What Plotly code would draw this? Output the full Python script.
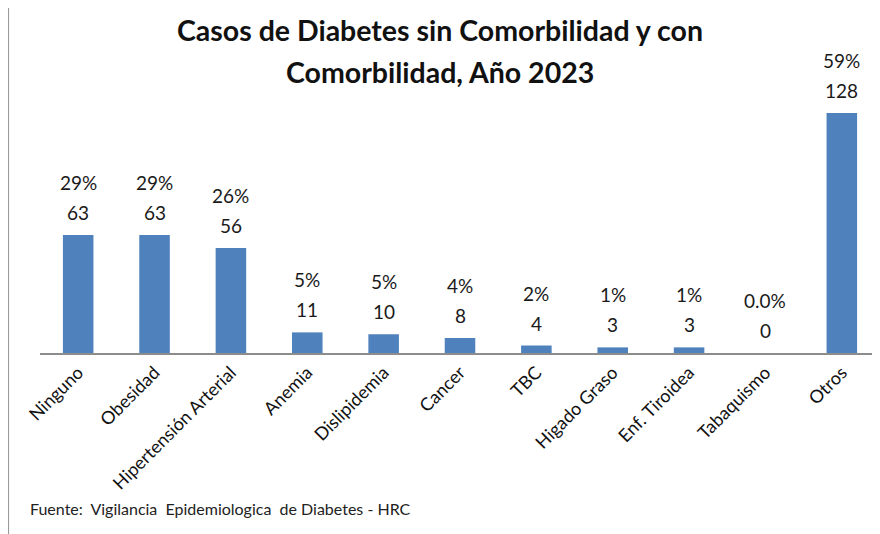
import plotly.graph_objects as go

categorias = ["Ninguno", "Obesidad", "Hipertensión Arterial", "Anemia", "Dislipidemia",
              "Cancer", "TBC", "Higado Graso", "Enf. Tiroidea", "Tabaquismo", "Otros"]
casos = [63, 63, 56, 11, 10, 8, 4, 3, 3, 0, 128]
porcentajes = ["29%", "29%", "26%", "5%", "5%", "4%", "2%", "1%", "1%", "0.0%", "59%"]

FONT = "Lato, 'Open Sans', sans-serif"

fig = go.Figure(go.Bar(
    x=categorias, y=casos,
    marker=dict(color="#4F81BD", line=dict(width=0)),
    width=0.4,
))

# two labels per bar: count and percentage above it
for cat, n, p in zip(categorias, casos, porcentajes):
    fig.add_annotation(x=cat, y=n, text=str(n), showarrow=False, yanchor="bottom",
                       yshift=9, font=dict(size=19, color="#1a1a1a"))
    fig.add_annotation(x=cat, y=n, text=p, showarrow=False, yanchor="bottom",
                       yshift=39, font=dict(size=19, color="#1a1a1a"))

fig.add_annotation(xref="paper", yref="paper", x=0.476, y=1.102, text="<b>Casos de Diabetes sin Comorbilidad y con</b>",
                   showarrow=False, font=dict(size=28.5, color="#111"), yanchor="middle")
fig.add_annotation(xref="paper", yref="paper", x=0.476, y=0.959, text="<b>Comorbilidad, Año 2023</b>",
                   showarrow=False, font=dict(size=28.5, color="#111"), yanchor="middle")
fig.add_annotation(xref="paper", yref="paper", x=-0.0143, y=-0.57, xanchor="left",
                   text="Fuente:  Vigilancia  Epidemiologica  de Diabetes - HRC",
                   showarrow=False, font=dict(size=16, color="#222"))

# outer chart frame
fig.add_shape(type="rect", xref="paper", yref="paper", x0=-0.038, x1=1.05, y0=-0.8, y1=1.188,
              line=dict(color="#9a9a9a", width=2), fillcolor="rgba(0,0,0,0)", layer="below")

# page body adds an 8px offset, so the figure is sized to fit the window
fig.update_layout(
    width=872, height=526,
    margin=dict(l=32, r=0, t=52, b=181),
    plot_bgcolor="white", paper_bgcolor="white",
    font=dict(family=FONT, color="#111"),
    showlegend=False,
    bargap=0.6,
    xaxis=dict(showline=True, linecolor="#8c8c8c", linewidth=2, ticks="", tickangle=-45,
               tickfont=dict(size=18, color="#111"), showgrid=False, automargin=False),
    yaxis=dict(range=[0, 156.3], visible=False, showgrid=False, automargin=False),
)

fig.write_html("out.html")
